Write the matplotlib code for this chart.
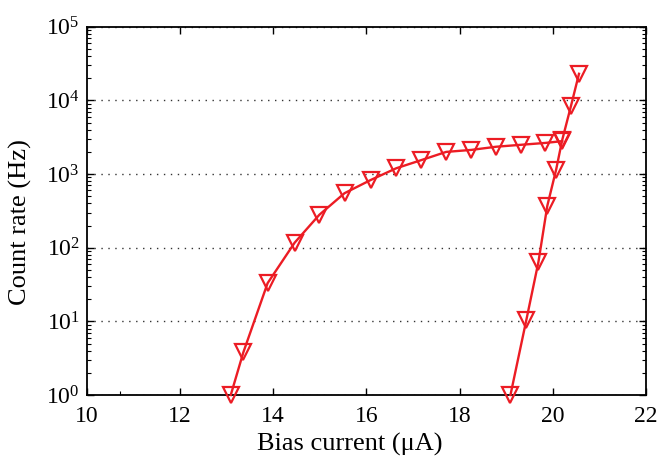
import numpy as np
import matplotlib
matplotlib.use('Agg')
import matplotlib.pyplot as plt
from matplotlib.ticker import FixedLocator, LogLocator, NullFormatter

plt.rcParams['font.family'] = ['Liberation Serif', 'DejaVu Serif']
plt.rcParams['mathtext.fontset'] = 'stix'

# sweep 1 (slow rise, plateau)
bias_1 = [13.09, 13.36, 13.88, 14.46, 14.99, 15.53, 16.09, 16.64, 17.18,
          17.71, 18.25, 18.78, 19.32, 19.84, 20.2]
rate_1 = [1.0, 3.8, 33, 117, 280, 550, 830, 1200, 1550,
          2000, 2130, 2350, 2500, 2650, 2800]

# sweep 2 (steep rise)
bias_2 = [19.09, 19.43, 19.69, 19.88, 20.07, 20.2, 20.39, 20.56]
rate_2 = [1.0, 10.4, 64, 370, 1150, 2900, 8500, 23000]

red = '#ec1c24'

fig = plt.figure(figsize=(6.62, 4.62), dpi=100)
ax = fig.add_axes([0.131, 0.145, 0.845, 0.797])

for xs, ys in [(bias_1, rate_1), (bias_2, rate_2)]:
    ax.plot(xs, ys, '-', color=red, lw=1.7, marker='v', ms=12,
            mfc='none', mec=red, mew=1.6, clip_on=False, zorder=3)

ax.set_yscale('log')
ax.set_xlim(10, 22)
ax.set_ylim(1, 1e5)
ax.set_xticks([10, 12, 14, 16, 18, 20, 22])
ax.xaxis.set_minor_locator(FixedLocator([10.72]))
ax.yaxis.set_major_locator(LogLocator(base=10, numticks=10))
ax.yaxis.set_minor_locator(LogLocator(base=10, subs=np.arange(2, 10), numticks=10))
ax.yaxis.set_minor_formatter(NullFormatter())

ax.tick_params(which='both', direction='in', top=True, right=True, labelsize=17)
ax.tick_params(which='major', length=5, width=1)
ax.tick_params(which='minor', length=3, width=0.8)
ax.tick_params(axis='x', which='minor', top=False)
ax.tick_params(axis='x', pad=8)
ax.tick_params(axis='y', pad=5)

ax.grid(True, axis='y', which='major', linestyle=(0, (1, 4)), color='#333333', lw=1)
for s in ax.spines.values():
    s.set_linewidth(1.3)

ax.set_xlabel('Bias current (μA)', fontsize=19)
ax.set_ylabel('Count rate (Hz)', fontsize=19)
ax.xaxis.set_label_coords(0.47, -0.103)
ax.yaxis.set_label_coords(-0.098, 0.47)

fig.savefig('out.png', dpi=100)
